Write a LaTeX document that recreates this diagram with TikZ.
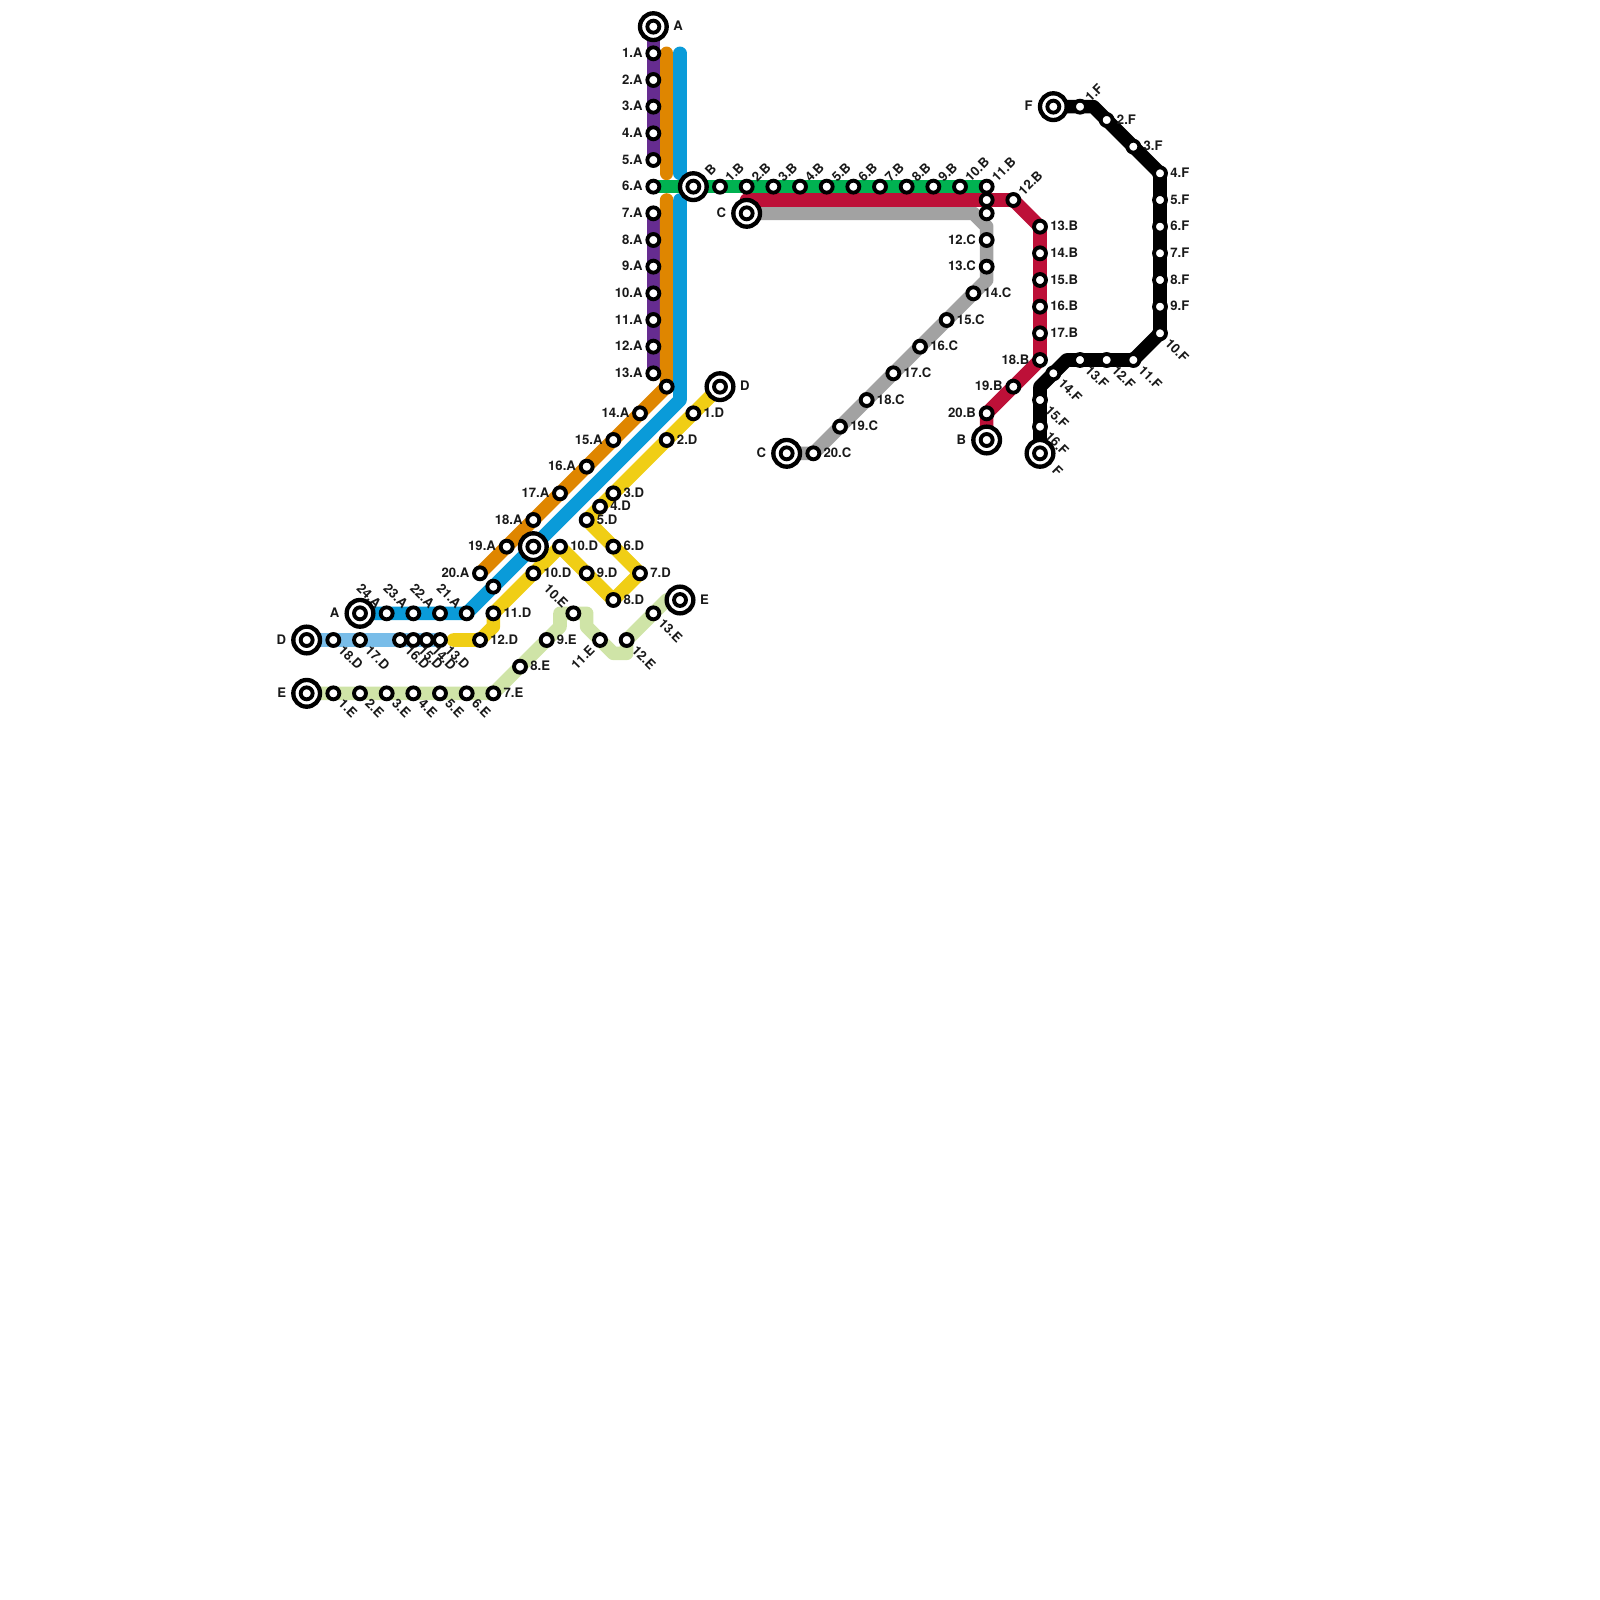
\documentclass[tikz,border=0pt]{standalone}
\usepackage{fontspec}
\setmainfont{TeX Gyre Heros}
\definecolor{cpurple}{HTML}{662C90}
\definecolor{corange}{HTML}{DF8600}
\definecolor{cblue}{HTML}{0A9BD9}
\definecolor{cgreen}{HTML}{00B251}
\definecolor{ccrimson}{HTML}{BD1038}
\definecolor{cgrey}{HTML}{A2A2A2}
\definecolor{cyellow}{HTML}{F0CE15}
\definecolor{csky}{HTML}{79BDE9}
\definecolor{clime}{HTML}{CFE4A7}
\pgfdeclarelayer{lines}
\pgfsetlayers{lines,main}
\tikzset{
  x=0.2cm,y=-0.2cm,
  stn/.style={circle,draw=black,fill=white,line width=1.65pt,minimum size=5.1pt,inner sep=0pt,outer sep=0pt},
  term/.style={circle,draw=black,fill=white,line width=1.85pt,minimum size=11.4pt,inner sep=0pt,outer sep=0pt},
  route/.style={line width=5.8pt,line cap=round,line join=round},
  lab/.style={font=\bfseries\fontsize{5.6}{6}\selectfont,inner sep=0pt,outer sep=0pt,text=black!90},
  lE/.style={lab,anchor=west,xshift=4.4pt,yshift=0.3pt},
  lW/.style={lab,anchor=east,xshift=-4.6pt,yshift=0.3pt},
  lNE/.style={lab,anchor=west,xshift=3.1pt,yshift=3.1pt,rotate=45},
  lSE/.style={lab,anchor=west,xshift=3.3pt,yshift=-3.3pt,rotate=-45},
  lNW/.style={lab,anchor=east,xshift=-3.3pt,yshift=3.3pt,rotate=-45},
  lSW/.style={lab,anchor=east,xshift=-3.3pt,yshift=-3.3pt,rotate=45},
  tE/.style={lab,anchor=west,xshift=8.6pt,yshift=0.3pt},
  tW/.style={lab,anchor=east,xshift=-8.8pt,yshift=0.3pt},
  tNE/.style={lab,anchor=west,xshift=5.9pt,yshift=5.9pt,rotate=45},
  tSE/.style={lab,anchor=west,xshift=6.3pt,yshift=-6.3pt,rotate=-45},
}
\begin{document}
\begin{tikzpicture}
\useasboundingbox (0,0) rectangle (120,120);
% stations
\foreach \n/\px/\py/\t/\s in {
 a1/49/4/1.A/lW,a2/49/6/2.A/lW,a3/49/8/3.A/lW,a4/49/10/4.A/lW,a5/49/12/5.A/lW,a6/49/14/6.A/lW,
 a7/49/16/7.A/lW,a8/49/18/8.A/lW,a9/49/20/9.A/lW,a10/49/22/10.A/lW,a11/49/24/11.A/lW,a12/49/26/12.A/lW,a13/49/28/13.A/lW,
 a14/48/31/14.A/lW,a15/46/33/15.A/lW,a16/44/35/16.A/lW,a17/42/37/17.A/lW,a18/40/39/18.A/lW,a19/38/41/19.A/lW,a20/36/43/20.A/lW,
 a21/35/46/21.A/lNW,a22/33/46/22.A/lNW,a23/31/46/23.A/lNW,a24/29/46/24.A/lNW,
 b1/54/14/1.B/lNE,b2/56/14/2.B/lNE,b3/58/14/3.B/lNE,b4/60/14/4.B/lNE,b5/62/14/5.B/lNE,b6/64/14/6.B/lNE,b7/66/14/7.B/lNE,b8/68/14/8.B/lNE,b9/70/14/9.B/lNE,b10/72/14/10.B/lNE,b11/74/14/11.B/lNE,b12/76/15/12.B/lNE,
 b13/78/17/13.B/lE,b14/78/19/14.B/lE,b15/78/21/15.B/lE,b16/78/23/16.B/lE,b17/78/25/17.B/lE,b18/78/27/18.B/lW,b19/76/29/19.B/lW,b20/74/31/20.B/lW,
 c12/74/18/12.C/lW,c13/74/20/13.C/lW,c14/73/22/14.C/lE,c15/71/24/15.C/lE,c16/69/26/16.C/lE,c17/67/28/17.C/lE,c18/65/30/18.C/lE,c19/63/32/19.C/lE,c20/61/34/20.C/lE,
 d1/52/31/1.D/lE,d2/50/33/2.D/lE,d3/46/37/3.D/lE,d4/45/38/4.D/lE,d5/44/39/5.D/lE,d6/46/41/6.D/lE,d7/48/43/7.D/lE,d8/46/45/8.D/lE,d9/44/43/9.D/lE,d10/42/41/10.D/lE,dx/40/43/10.D/lE,d11/37/46/11.D/lE,d12/36/48/12.D/lE,
 d13/33/48/13.D/lSE,d14/32/48/14.D/lSE,d15/31/48/15.D/lSE,d16/30/48/16.D/lSE,d17/27/48/17.D/lSE,d18/25/48/18.D/lSE,
 e1/25/52/1.E/lSE,e2/27/52/2.E/lSE,e3/29/52/3.E/lSE,e4/31/52/4.E/lSE,e5/33/52/5.E/lSE,e6/35/52/6.E/lSE,e7/37/52/7.E/lE,e8/39/50/8.E/lE,e9/41/48/9.E/lE,e10/43/46/10.E/lNW,e11/45/48/11.E/lSW,e12/47/48/12.E/lSE,e13/49/46/13.E/lSE,
 f1/81/8/1.F/lNE,f2/83/9/2.F/lE,f3/85/11/3.F/lE,f4/87/13/4.F/lE,f5/87/15/5.F/lE,f6/87/17/6.F/lE,f7/87/19/7.F/lE,f8/87/21/8.F/lE,f9/87/23/9.F/lE,
 f10/87/25/10.F/lSE,f11/85/27/11.F/lSE,f12/83/27/12.F/lSE,f13/81/27/13.F/lSE,f14/79/28/14.F/lSE,f15/78/30/15.F/lSE,f16/78/32/16.F/lSE}{
 \node[stn] (\n) at (\px,\py) {};
 \node[\s] (\n t) at (\px,\py) {\t};
}
% stations without a label
\node[stn] (ax) at (50,29) {};
\node[stn] (ay) at (37,44) {};
\node[stn] (bx) at (74,15) {};
\node[stn] (cx) at (74,16) {};
% terminals
\foreach \n/\px/\py/\t/\s in {
 tA/49/2/A/tE,tAb/27/46/A/tW,tB/52/14/B/tNE,tBb/74/33/B/tW,tC/56/16/C/tW,tCb/59/34/C/tW,
 tD/54/29/D/tE,tDb/23/48/D/tW,tE/51/45/E/tE,tEb/23/52/E/tW,tF/79/8/F/tW,tFb/78/34/F/tSE}{
 \node[term] (\n) at (\px,\py) {};
 \node[stn] (\n i) at (\px,\py) {};
 \node[\s] (\n t) at (\px,\py) {\t};
}
\node[term] (hub) at (40,41) {};
\node[stn] (hub i) at (40,41) {};
% bend points
\coordinate (o1) at (50,4); \coordinate (o2) at (50,13); \coordinate (o3) at (50,15);
\coordinate (u1) at (51,4); \coordinate (u2) at (51,13); \coordinate (u3) at (51,15); \coordinate (u4) at (51,30);
\coordinate (r0) at (56,15);
\coordinate (g1) at (73,16); \coordinate (g2) at (74,17); \coordinate (g3) at (74,21);
\coordinate (y1) at (37,47); \coordinate (y2) at (34,48);
\coordinate (l1) at (42,47); \coordinate (l2) at (42,46); \coordinate (l3) at (44,46); \coordinate (l4) at (44,47);
\coordinate (l5) at (46,49); \coordinate (l6) at (47,49); \coordinate (l7) at (50,45);
\coordinate (k1) at (82,8); \coordinate (k2) at (80,27); \coordinate (k3) at (78,29);
\begin{pgfonlayer}{lines}
 \draw[route,cpurple] (tA.center) -- (a5.center);
 \draw[route,cpurple] (a7.center) -- (a13.center);
 \draw[route,corange] (o1) -- (o2);
 \draw[route,corange] (o3) -- (ax.center) -- (a20.center);
 \draw[route,cblue] (u1) -- (u2);
 \draw[route,cblue] (u3) -- (u4) -- (a21.center) -- (tAb.center);
 \draw[route,cgreen] (a6.center) -- (b11.center);
 \draw[route,clime] (tEb.center) -- (e7.center) -- (l1) -- (l2) -- (l3) -- (l4) -- (l5) -- (l6) -- (e12.center) -- (l7) -- (tE.center);
 \draw[route,csky] (tDb.center) -- (d13.center);
 \draw[route,cyellow] (tD.center) -- (d5.center) -- (d7.center) -- (d8.center) -- (d10.center) -- (d11.center) -- (y1) -- (d12.center) -- (y2);
 \draw[route,cgrey] (tC.center) -- (g1) -- (g2) -- (g3) -- (c20.center) -- (tCb.center);
 \draw[route,ccrimson] (r0) -- (b12.center) -- (b13.center) -- (b18.center) -- (b20.center) -- (tBb.center);
 \draw[route,black] (tF.center) -- (k1) -- (f4.center) -- (f10.center) -- (f11.center) -- (k2) -- (k3) -- (tFb.center);
\end{pgfonlayer}
\end{tikzpicture}
\end{document}
